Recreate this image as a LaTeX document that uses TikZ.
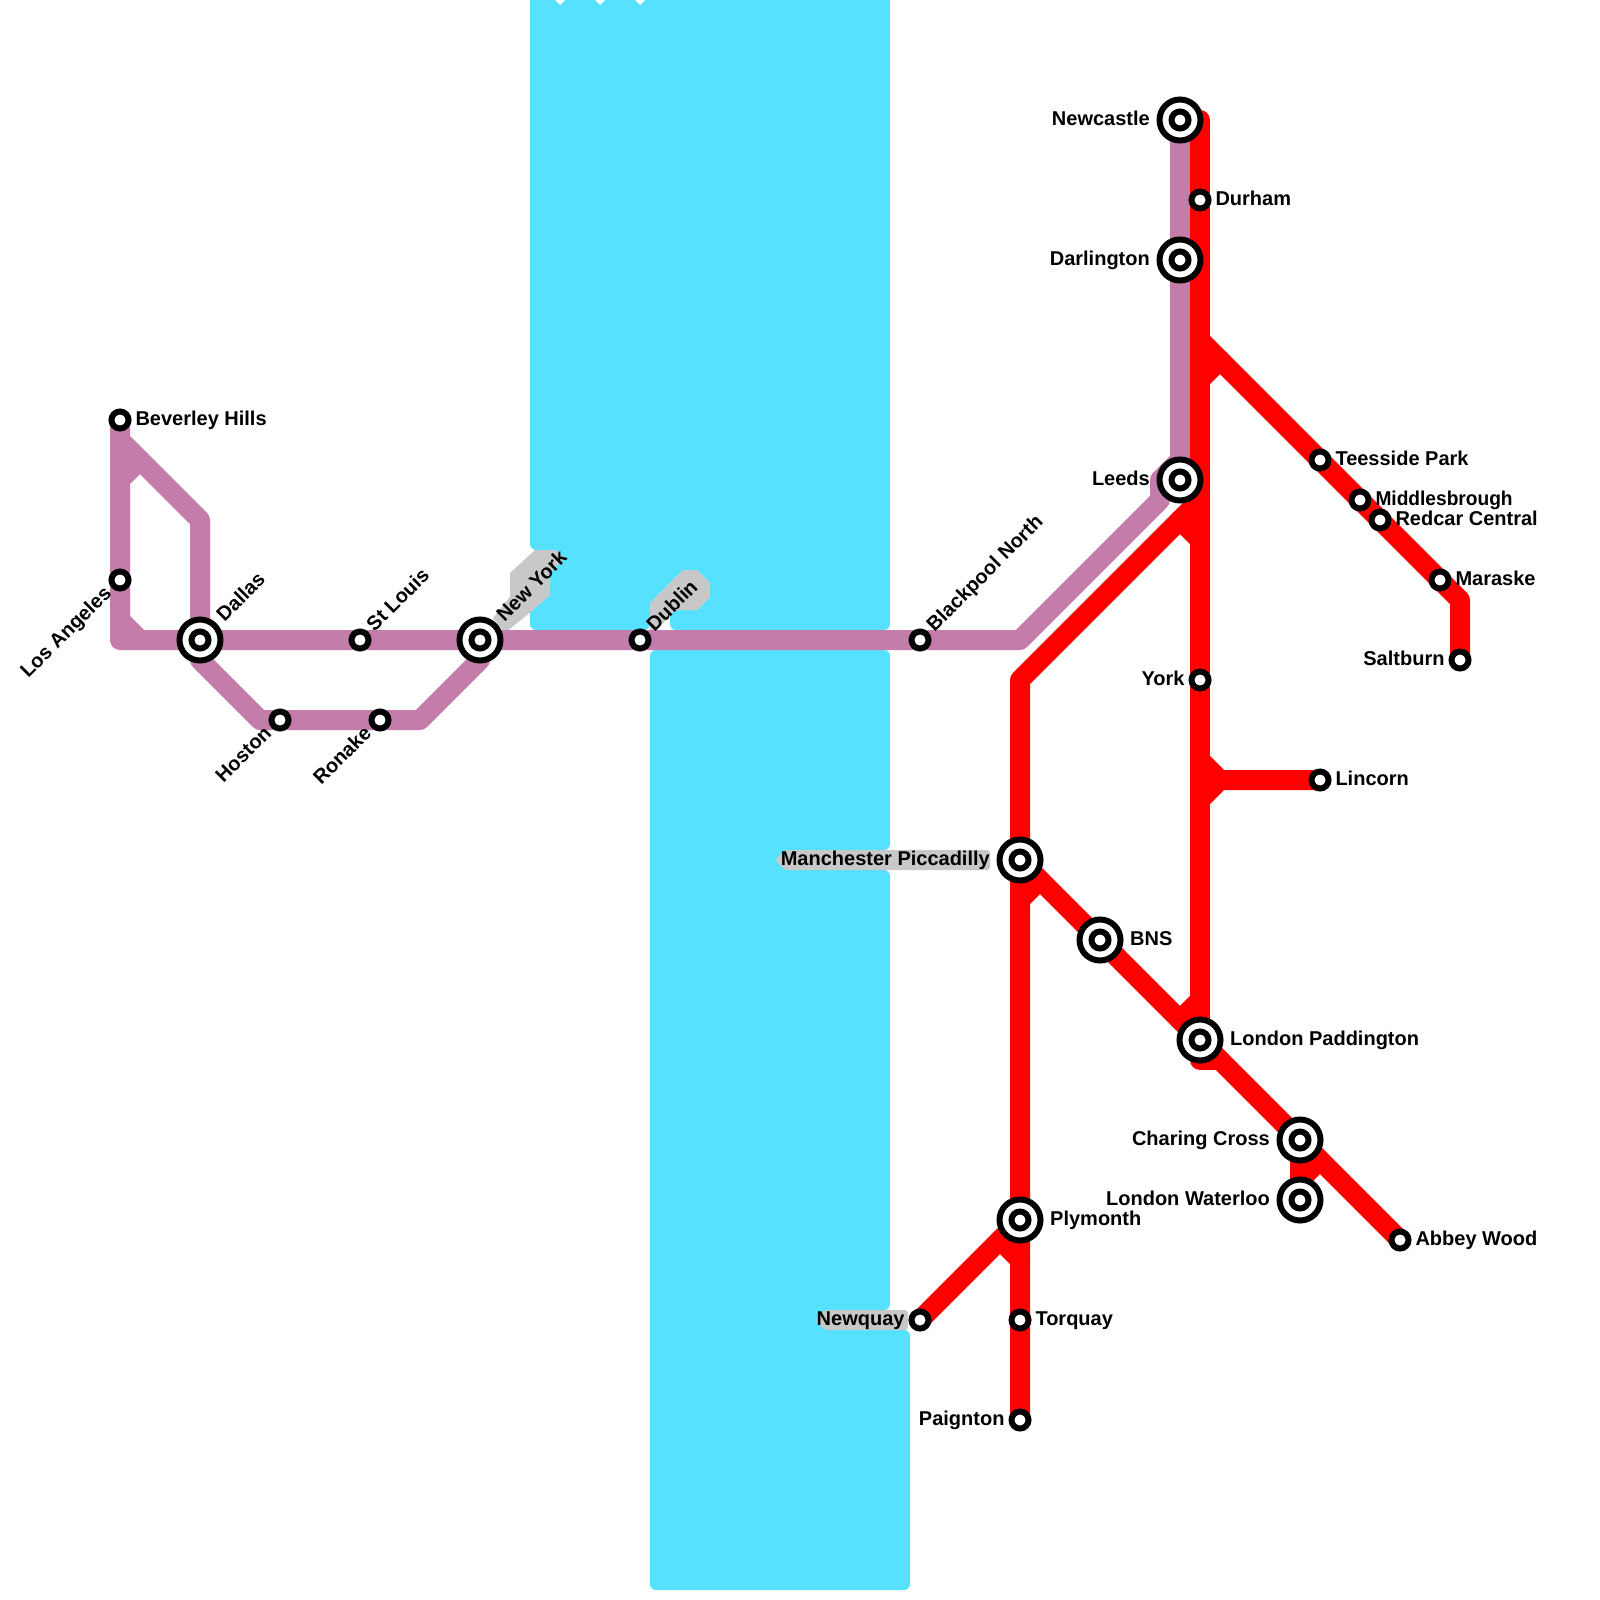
\documentclass[tikz,border=0pt]{standalone}
\usepackage{fontspec}
\setmainfont{Liberation Sans}
\usepackage{tikz}
\usetikzlibrary{positioning}
\definecolor{water}{HTML}{55E1FF}
\definecolor{mauve}{HTML}{C47DAB}
\definecolor{shade}{HTML}{C8C8C8}
\pgfdeclarelayer{lines}
\pgfsetlayers{lines,main}

\begin{document}
\begin{tikzpicture}[
  x=1pt,y=-1pt,
  node distance=3.8pt,
  stn/.style={circle,draw=black,fill=white,line width=6pt,minimum size=17pt,inner sep=0pt},
  hub/.style={stn,minimum size=41pt,
              path picture={\draw[line width=6pt,fill=white] (path picture bounding box.center) circle (8.5pt);}},
  lbl/.style={inner sep=0pt,text height=13pt,text depth=3pt,font=\fontsize{20}{22}\selectfont\bfseries},
  lblup/.style={lbl,anchor=west,rotate=45},
  lbldown/.style={lbl,anchor=east,rotate=45},
  route/.style={line width=20pt,line join=round,line cap=round},
  mline/.style={route,color=mauve},
  rline/.style={route,color=red},
  sea/.style={fill=water,rounded corners=6pt},
  backing/.style={fill=shade}
]
  \useasboundingbox (0,0) rectangle (1600,1600);

  \node[stn] (beverley)   at (120,420)  {};
  \node[stn] (losangeles) at (120,580)  {};
  \node[hub] (dallas)     at (200,640)  {};
  \node[stn] (stlouis)    at (360,640)  {};
  \node[hub] (newyork)    at (480,640)  {};
  \node[stn] (dublin)     at (640,640)  {};
  \node[stn] (blackpool)  at (920,640)  {};
  \node[stn] (hoston)     at (280,720)  {};
  \node[stn] (ronake)     at (380,720)  {};
  \node[hub] (newcastle)  at (1180,120) {};
  \node[hub] (darlington) at (1180,260) {};
  \node[hub] (leeds)      at (1180,480) {};
  \node[stn] (durham)     at (1200,200) {};
  \node[stn] (york)       at (1200,680) {};
  \node[stn] (lincorn)    at (1320,780) {};
  \node[stn] (teesside)   at (1320,460) {};
  \node[stn] (middlesbrough) at (1360,500) {};
  \node[stn] (redcar)     at (1380,520) {};
  \node[stn] (maraske)    at (1440,580) {};
  \node[stn] (saltburn)   at (1460,660) {};
  \node[hub] (manchester) at (1020,860) {};
  \node[hub] (bns)        at (1100,940) {};
  \node[hub] (paddington) at (1200,1040) {};
  \node[hub] (charing)    at (1300,1140) {};
  \node[hub] (waterloo)   at (1300,1200) {};
  \node[stn] (abbey)      at (1400,1240) {};
  \node[hub] (plymonth)   at (1020,1220) {};
  \node[stn] (newquay)    at (920,1320) {};
  \node[stn] (torquay)    at (1020,1320) {};
  \node[stn] (paignton)   at (1020,1420) {};

  \node[lbl,right=of beverley] (lbeverley) {Beverley Hills};
  \node[lbl,right=of durham] (ldurham) {Durham};
  \node[lbl,right=of teesside] (lteesside) {Teesside Park};
  \node[lbl,right=of middlesbrough,transform shape,xscale=.957] (lmiddlesbrough) {Middlesbrough};
  \node[lbl,right=of redcar] (lredcar) {Redcar Central};
  \node[lbl,right=of maraske] (lmaraske) {Maraske};
  \node[lbl,right=of lincorn] (llincorn) {Lincorn};
  \node[lbl,right=of torquay] (ltorquay) {Torquay};
  \node[lbl,right=of abbey] (labbey) {Abbey Wood};
  \node[lbl,right=6.5pt of bns] (lbns) {BNS};
  \node[lbl,right=6.5pt of paddington] (lpaddington) {London Paddington};
  \node[lbl,right=6.5pt of plymonth] (lplymonth) {Plymonth};
  \node[lbl,left=of york] (lyork) {York};
  \node[lbl,left=of saltburn] (lsaltburn) {Saltburn};
  \node[lbl,left=of paignton] (lpaignton) {Paignton};
  \node[lbl,left=of newquay] (lnewquay) {Newquay};
  \node[lbl,left=6.5pt of newcastle] (lnewcastle) {Newcastle};
  \node[lbl,left=6.5pt of darlington] (ldarlington) {Darlington};
  \node[lbl,left=6.5pt of leeds] (lleeds) {Leeds};
  \node[lbl,left=6.5pt of charing] (lcharing) {Charing Cross};
  \node[lbl,left=6.5pt of waterloo] (lwaterloo) {London Waterloo};
  \node[lbl,left=6.5pt of manchester] (lmanchester) {Manchester Piccadilly};
  \node[xshift=21pt,yshift=21pt,lblup] (ldallas) at (dallas) {Dallas};
  \node[xshift=21pt,yshift=21pt,lblup] (lnewyork) at (newyork) {New York};
  \node[xshift=11pt,yshift=11pt,lblup] (lstlouis) at (stlouis) {St Louis};
  \node[xshift=11pt,yshift=11pt,lblup] (ldublin) at (dublin) {Dublin};
  \node[xshift=11pt,yshift=11pt,lblup] (lblackpool) at (blackpool) {Blackpool North};
  \node[xshift=-11pt,yshift=-11pt,lbldown] (llosangeles) at (losangeles) {Los Angeles};
  \node[xshift=-11pt,yshift=-11pt,lbldown] (lhoston) at (hoston) {Hoston};
  \node[xshift=-11pt,yshift=-11pt,lbldown] (lronake) at (ronake) {Ronake};

  \begin{pgfonlayer}{lines}
    \fill[sea] (530,-10) -- (530,550) -- (545,550) -- (545,595) -- (530,607) -- (530,630)
      -- (650,630) -- (650,603) -- (683,570) -- (697,570) -- (710,583) -- (710,597) -- (697,610)
      -- (670,610) -- (670,630) -- (890,630) -- (890,-10) -- cycle;
    \fill[sea] (650,650) -- (890,650) -- (890,850) -- (790,850) -- (790,870) -- (890,870)
      -- (890,1310) -- (830,1310) -- (830,1330) -- (910,1330) -- (910,1590) -- (650,1590) -- cycle;
    \foreach \tx in {560,600,640}
      \fill[white] (\tx-5,0) -- (\tx,5) -- (\tx+5,0) -- cycle;

    \fill[backing] (535,550) -- (556,550) -- (564,558) -- (550,573) -- (550,595) -- (533,610)
      -- (505,633) -- (493,618) -- (510,597) -- (510,573) -- cycle;
    \fill[backing] (650,630) -- (650,603) -- (683,570) -- (697,570) -- (710,583) -- (710,597)
      -- (697,610) -- (675,610) -- (657,630) -- cycle;
    \fill[backing,rounded corners=3pt] (785,850) -- (990,850) -- (990,870) -- (785,870) -- (775,860) -- cycle;
    \fill[backing,rounded corners=3pt] (825,1310) -- (908,1310) -- (908,1330) -- (825,1330) -- (815,1320) -- cycle;

    \coordinate (mfork) at (120,440);
    \coordinate (rtop) at (1200,120);
    \coordinate (rend) at (1220,1060);
    \coordinate (rjoin) at (1200,500);
    \coordinate (tfork) at (1200,340);
    \coordinate (lfork) at (1200,760);

    \draw[mline] (beverley.center) -- (losangeles.center) -- (120,640) -- (dallas.center)
      -- (stlouis.center) -- (newyork.center) -- (dublin.center) -- (blackpool.center)
      -- (1020,640) -- (1160,500) -- (1160,480) -- (1180,460) -- (darlington.center) -- (newcastle.center);
    \draw[mline] (mfork) -- (200,520) -- (dallas.center) -- (200,660) -- (260,720) -- (hoston.center)
      -- (ronake.center) -- (420,720) -- (480,660) -- (newyork.center);

    \draw[rline] (rtop) -- (durham.center) -- (york.center) -- (paddington.center) -- (1200,1060) -- (rend);
    \draw[rline] (paignton.center) -- (torquay.center) -- (plymonth.center) -- (manchester.center)
      -- (1020,680) -- (rjoin);
    \draw[rline] (tfork) -- (teesside.center) -- (middlesbrough.center) -- (redcar.center)
      -- (maraske.center) -- (1460,600) -- (saltburn.center);
    \draw[rline] (lfork) -- (1220,780) -- (lincorn.center);
    \draw[rline] (manchester.center) -- (bns.center) -- (paddington.center) -- (charing.center) -- (abbey.center);
    \draw[rline] (charing.center) -- (waterloo.center);
    \draw[rline] (plymonth.center) -- (newquay.center);

    \foreach \n/\ax/\ay/\bx/\by in {a/120/480/140/460,b/120/620/140/640}{
      \coordinate (\n1) at (\ax,\ay);
      \coordinate (\n2) at (\bx,\by);
      \draw[mline] (\n1) -- (\n2);
    }
    \foreach \n/\ax/\ay/\bx/\by in {c/1200/380/1220/360,d/1180/520/1200/540,e/1200/800/1220/780,
        f/1020/900/1040/880,g/1200/1000/1180/1020,h/1300/1180/1320/1160,i/1000/1240/1020/1260}{
      \coordinate (\n1) at (\ax,\ay);
      \coordinate (\n2) at (\bx,\by);
      \draw[rline] (\n1) -- (\n2);
    }
  \end{pgfonlayer}
\end{tikzpicture}
\end{document}
